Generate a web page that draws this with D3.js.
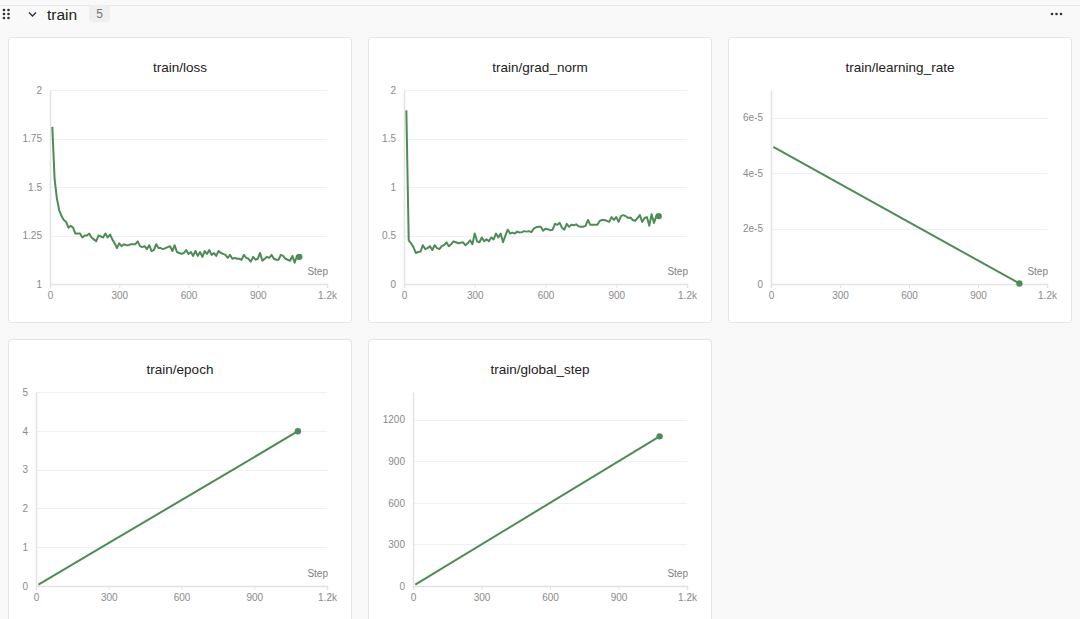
<!DOCTYPE html>
<html>
<head>
<meta charset="utf-8">
<script src="https://cdn.jsdelivr.net/npm/d3@7"></script>
<style>
  html, body { margin: 0; padding: 0; background: #f9f9f9; }
  svg { display: block; font-family: "Helvetica Neue", Arial, "Liberation Sans", sans-serif; }
</style>
</head>
<body>
<svg id="page" width="1080" height="619"></svg>
<script>
// ---- data ----
var lossSteps = d3.range(10, 1081, 10);
var lossValues = [1.81, 1.54, 1.44, 1.38, 1.35, 1.33, 1.32, 1.29, 1.30, 1.29,
  1.26, 1.26, 1.26, 1.24, 1.25, 1.25, 1.26, 1.24, 1.23, 1.22,
  1.25, 1.245, 1.24, 1.26, 1.24, 1.255, 1.23, 1.21, 1.185, 1.21,
  1.195, 1.205, 1.20, 1.20, 1.205, 1.205, 1.205, 1.22, 1.195, 1.19,
  1.195, 1.18, 1.20, 1.17, 1.175, 1.205, 1.185, 1.185, 1.18, 1.185,
  1.19, 1.195, 1.17, 1.20, 1.165, 1.16, 1.155, 1.16, 1.175, 1.155,
  1.165, 1.145, 1.17, 1.145, 1.165, 1.14, 1.17, 1.155, 1.175, 1.15,
  1.16, 1.145, 1.17, 1.16, 1.155, 1.15, 1.135, 1.15, 1.13, 1.135,
  1.13, 1.13, 1.125, 1.15, 1.135, 1.13, 1.115, 1.14, 1.125, 1.13,
  1.16, 1.12, 1.13, 1.14, 1.135, 1.15, 1.13, 1.125, 1.125, 1.15,
  1.145, 1.13, 1.125, 1.12, 1.145, 1.11, 1.145, 1.14];

var gradSteps = d3.range(10, 1081, 10);
var gradValues = [1.79, 0.45, 0.42, 0.38, 0.32, 0.33, 0.335, 0.40, 0.36, 0.37,
  0.39, 0.35, 0.40, 0.37, 0.36, 0.39, 0.40, 0.43, 0.39, 0.41,
  0.44, 0.43, 0.42, 0.425, 0.43, 0.40, 0.42, 0.45, 0.41, 0.52,
  0.44, 0.43, 0.48, 0.44, 0.46, 0.44, 0.48, 0.46, 0.52, 0.48,
  0.52, 0.43, 0.50, 0.56, 0.52, 0.53, 0.52, 0.54, 0.53, 0.535,
  0.545, 0.54, 0.545, 0.535, 0.57, 0.585, 0.59, 0.59, 0.55, 0.57,
  0.565, 0.555, 0.56, 0.62, 0.61, 0.63, 0.58, 0.56, 0.62, 0.59,
  0.61, 0.605, 0.615, 0.595, 0.59, 0.59, 0.60, 0.66, 0.61, 0.61,
  0.61, 0.61, 0.65, 0.66, 0.66, 0.65, 0.64, 0.69, 0.66, 0.69,
  0.64, 0.70, 0.71, 0.70, 0.68, 0.685, 0.66, 0.65, 0.68, 0.71,
  0.64, 0.68, 0.69, 0.60, 0.72, 0.63, 0.70, 0.70];

var lrSteps = [10, 1080];
var lrValues = [4.95e-5, 0.02e-5];

var epochSteps = [10, 271, 542, 813, 1080];
var epochValues = [0.037, 1.0, 2.0, 3.0, 3.99];

var globalSteps = [10, 1080];
var globalValues = [10, 1080];

var stepTicks = [0, 300, 600, 900, 1200];
var stepTickLabels = ["0", "300", "600", "900", "1.2k"];

var lossTicks = [1, 1.25, 1.5, 1.75, 2];
var gradTicks = [0, 0.5, 1, 1.5, 2];
var lrTicks = [0, 2e-5, 4e-5, 6e-5];
var lrTickLabels = ["0", "2e-5", "4e-5", "6e-5"];
var epochTicks = [0, 1, 2, 3, 4, 5];
var globalTicks = [0, 300, 600, 900, 1200];

var lineColor = "#4d8d55";

var svg = d3.select("#page");

// ---- section header ----
svg.append("line").attr("x1", 0).attr("x2", 1080).attr("y1", 5.5).attr("y2", 5.5)
  .attr("stroke", "#e6e6e6");

// grip dots
[0, 1, 2].forEach(function(r) {
  [0, 1].forEach(function(c) {
    svg.append("circle").attr("cx", 4 + c * 4.5).attr("cy", 10 + r * 4).attr("r", 1.35).attr("fill", "#333");
  });
});
svg.append("path").attr("d", "M29,12.5 L32.5,16 L36,12.5")
  .attr("fill", "none").attr("stroke", "#333").attr("stroke-width", 1.4);
svg.append("text").attr("x", 47).attr("y", 19.5).attr("font-size", 15.5).attr("fill", "#222").text("train");
svg.append("rect").attr("x", 89).attr("y", 5).attr("width", 21).attr("height", 17).attr("rx", 3)
  .attr("fill", "#efefef");
svg.append("text").attr("x", 99.5).attr("y", 18).attr("text-anchor", "middle")
  .attr("font-size", 12).attr("fill", "#777").text("5");
[0, 1, 2].forEach(function(i) {
  svg.append("circle").attr("cx", 1052 + i * 4.5).attr("cy", 14).attr("r", 1.3).attr("fill", "#333");
});

// ---- panels ----
function drawPanel(p) {
  var card = svg.append("g");
  card.append("rect")
    .attr("x", p.cx + 0.5).attr("y", p.cy + 0.5)
    .attr("width", 343).attr("height", 285).attr("rx", 3)
    .attr("fill", "#fff").attr("stroke", "#e4e4e4");

  card.append("text")
    .attr("x", p.cx + 172).attr("y", p.cy + 35)
    .attr("text-anchor", "middle").attr("font-size", 13.5).attr("fill", "#222")
    .text(p.title);

  var x0 = p.cx + p.left, x1 = p.cx + 319;
  var yTop = p.cy + 53, yBot = p.cy + 247;

  var x = d3.scaleLinear().domain([0, 1200]).range([x0, x1]);
  var y = d3.scaleLinear().domain(p.yDomain).range([yBot, yTop]);

  var g = svg.append("g");

  // grid
  g.selectAll(".grid").data(p.yTicks.filter(function(t) { return t !== p.yDomain[0]; }))
    .enter().append("line")
    .attr("x1", x0).attr("x2", x1)
    .attr("y1", function(d) { return Math.round(y(d)) + 0.5; })
    .attr("y2", function(d) { return Math.round(y(d)) + 0.5; })
    .attr("stroke", "#f0f0f0");

  // y axis
  var yAxis = d3.axisLeft(y).tickValues(p.yTicks).tickSize(0).tickPadding(8)
    .tickFormat(function(d, i) { return p.yLabels ? p.yLabels[i] : d; });
  var ya = g.append("g").attr("transform", "translate(" + x0 + ",0)").call(yAxis);
  ya.select(".domain").attr("stroke", "#e3e3e3").attr("stroke-width", 1.5);
  ya.selectAll("text").attr("fill", "#8a8a8a").attr("font-size", 10)
    .attr("font-family", "inherit");

  // x axis
  var xAxis = d3.axisBottom(x).tickValues(stepTicks).tickSize(4).tickPadding(4)
    .tickFormat(function(d, i) { return stepTickLabels[i]; });
  var xa = g.append("g").attr("transform", "translate(0," + yBot + ")").call(xAxis);
  xa.select(".domain").attr("stroke", "#e3e3e3").attr("stroke-width", 1.5);
  xa.selectAll("line").attr("stroke", "#e3e3e3");
  xa.selectAll("text").attr("fill", "#8a8a8a").attr("font-size", 10)
    .attr("font-family", "inherit");

  g.append("text").attr("x", x1 + 1).attr("y", yBot - 9)
    .attr("text-anchor", "end").attr("font-size", 10).attr("fill", "#808080").text("Step");

  var pts = p.steps.map(function(s, i) { return [s, p.values[i]]; });
  var line = d3.line()
    .x(function(d) { return x(d[0]); })
    .y(function(d) { return y(d[1]); });

  g.append("path").datum(pts)
    .attr("d", line)
    .attr("fill", "none")
    .attr("stroke", lineColor)
    .attr("stroke-width", 2)
    .attr("stroke-linejoin", "round");

  var last = pts[pts.length - 1];
  g.append("circle").attr("cx", x(last[0])).attr("cy", y(last[1])).attr("r", 3.2)
    .attr("fill", lineColor);
}

drawPanel({ cx: 8, cy: 37, left: 42, title: "train/loss", steps: lossSteps, values: lossValues,
  yDomain: [1, 2], yTicks: lossTicks });
drawPanel({ cx: 368, cy: 37, left: 36, title: "train/grad_norm", steps: gradSteps, values: gradValues,
  yDomain: [0, 2], yTicks: gradTicks });
drawPanel({ cx: 728, cy: 37, left: 43, title: "train/learning_rate", steps: lrSteps, values: lrValues,
  yDomain: [0, 7e-5], yTicks: lrTicks, yLabels: lrTickLabels });
drawPanel({ cx: 8, cy: 339, left: 28, title: "train/epoch", steps: epochSteps, values: epochValues,
  yDomain: [0, 5], yTicks: epochTicks });
drawPanel({ cx: 368, cy: 339, left: 45, title: "train/global_step", steps: globalSteps, values: globalValues,
  yDomain: [0, 1400], yTicks: globalTicks });
</script>
</body>
</html>
